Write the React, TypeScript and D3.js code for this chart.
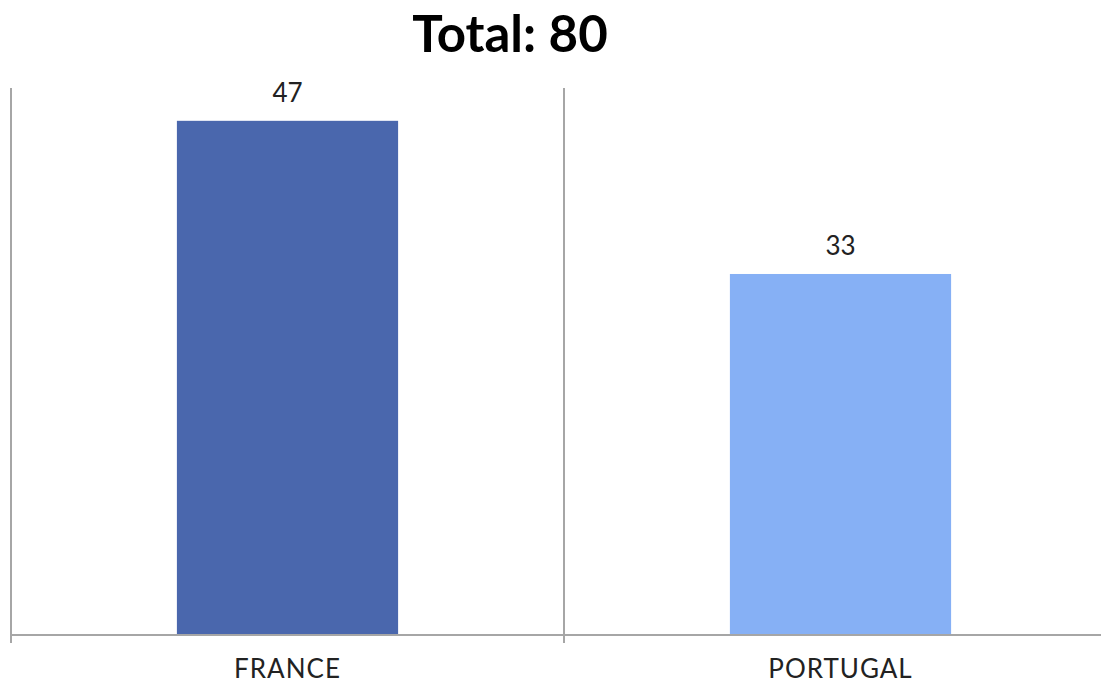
import React from "react";
import * as d3 from "d3";

const categories = ["FRANCE", "PORTUGAL"];
const values = [47, 33];
const colors = ["#4A67AD", "#86B0F5"];
const title = "Total: 80";

const W = 1101;
const H = 683;

export default function App() {
  const x = d3.scaleBand<string>().domain(categories).range([11, 1117]).paddingInner(0.6).paddingOuter(0.3);
  const y = d3.scaleLinear().domain([0, 50]).range([635, 88]);
  const step = x.step();
  const bounds = [11, 11 + step];
  const font = "'Century Gothic', 'URW Gothic', 'Lato', 'DejaVu Sans', sans-serif";
  return (
    <svg width={W} height={H} style={{ position: "absolute", left: 0, top: 0 }}>
      <rect width={W} height={H} fill="#fff" />
      <text x={510} y={52} textAnchor="middle" fontFamily={font} fontWeight="bold" fontSize={51} fill="#000">{title}</text>
      {categories.map((c, i) => (
        <g key={c}>
          <rect x={x(c)} y={y(values[i])} width={x.bandwidth()} height={y(0) - y(values[i])} fill={colors[i]} />
          <text x={(x(c) as number) + x.bandwidth() / 2} y={y(values[i]) - 19} textAnchor="middle" fontFamily={font} fontSize={26} fill="#222">{values[i]}</text>
          <text x={(x(c) as number) + x.bandwidth() / 2} y={678} textAnchor="middle" fontFamily={font} fontSize={26} letterSpacing={1} fill="#222">{c}</text>
        </g>
      ))}
      {bounds.map((b, i) => (
        <line key={i} x1={b} x2={b} y1={y(50)} y2={643} stroke="#a6a6a6" strokeWidth={2} />
      ))}
      <line x1={11} x2={W} y1={y(0)} y2={y(0)} stroke="#a6a6a6" strokeWidth={2} />
    </svg>
  );
}
